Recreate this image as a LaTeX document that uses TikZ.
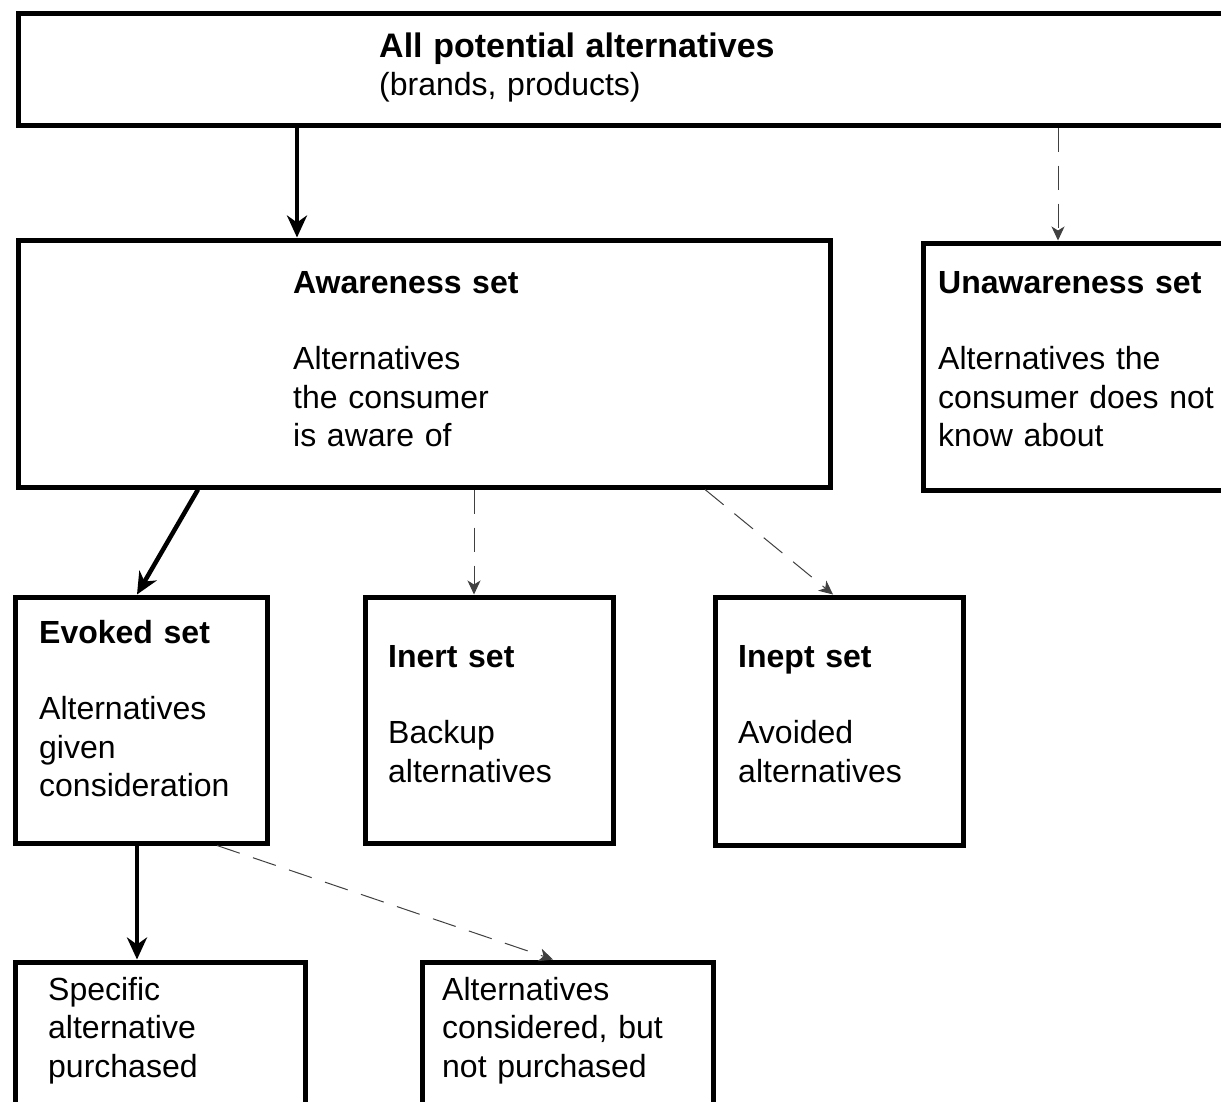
\documentclass[tikz,border=0pt]{standalone}
\usepackage{fontspec}
\setmainfont{Liberation Sans}
\usetikzlibrary{arrows.meta}
\begin{document}
\begin{tikzpicture}[x=1pt,y=-1pt,
  setbox/.style={draw=black,line width=5pt,fill=white,inner sep=0pt},
  boxtext/.style={anchor=base west,inner sep=0pt,align=left,text width=#1,
    font=\fontsize{32}{38.5}\selectfont},
  mainarrow/.style={line width=4.5pt,-{Stealth[length=22pt,width=20pt,inset=7pt]}},
  sidearrow/.style={line width=1pt,draw=black!75,dash pattern=on 24pt off 14pt,
    -{Stealth[length=14pt,width=13pt,inset=4pt]}}]
\clip (0,0) rectangle (1221,1101);
\fill[white] (0,0) rectangle (1221,1101);

% set boxes
\node[setbox,minimum width=1222pt,minimum height=112pt] (all) at (629,69) {};
\node[setbox,minimum width=812pt,minimum height=247pt] (aware) at (424,363.5) {};
\node[setbox,minimum width=317pt,minimum height=247pt] (unaware) at (1081.5,366.5) {};
\node[setbox,minimum width=252pt,minimum height=246pt] (evoked) at (141,720) {};
\node[setbox,minimum width=248pt,minimum height=246pt] (inert) at (489,720) {};
\node[setbox,minimum width=248pt,minimum height=248pt] (inept) at (839,721) {};
\node[setbox,minimum width=290pt,minimum height=168pt] (bought) at (160,1046) {};
\node[setbox,minimum width=291pt,minimum height=168pt] (rejected) at (567.5,1046) {};

% texts inside the boxes
\node[boxtext=500pt] (allT) at (379,57) {{\fontsize{34}{38.5}\selectfont\textbf{All potential alternatives}}\\(brands, products)};
\node[boxtext=320pt] (awareT) at (293,293) {\textbf{Awareness set}\\[38pt]Alternatives\\the consumer\\is aware of};
\node[boxtext=320pt] (unawareT) at (938,293) {\textbf{Unawareness set}\\[38pt]Alternatives the\\consumer does not\\know about};
\node[boxtext=240pt] (evokedT) at (39,643) {\textbf{Evoked set}\\[38pt]Alternatives\\given\\consideration};
\node[boxtext=240pt] (inertT) at (388,667) {\textbf{Inert set}\\[38pt]Backup\\alternatives};
\node[boxtext=240pt] (ineptT) at (738,667) {\textbf{Inept set}\\[38pt]Avoided\\alternatives};
\node[boxtext=260pt] (boughtT) at (48,1000) {Specific\\alternative\\purchased};
\node[boxtext=280pt] (rejectedT) at (442,1000) {Alternatives\\considered, but\\not purchased};

% connectors
\draw[mainarrow] (all.south -| 297,0) -- (aware.north -| 297,0);
\draw[sidearrow] (all.south -| 1058,0) -- (unaware.north -| 1058,0);
\draw[mainarrow] (aware.south -| 198,0) -- (evoked.north -| 137,0);
\draw[sidearrow] (aware.south -| 474,0) -- (inert.north -| 474,0);
\draw[sidearrow] (aware.south -| 705,0) -- (inept.north -| 833,0);
\draw[mainarrow] (evoked.south -| 137,0) -- (bought.north -| 137,0);
\draw[sidearrow] (evoked.south -| 217,0) -- (rejected.north -| 553,0);
\end{tikzpicture}
\end{document}
